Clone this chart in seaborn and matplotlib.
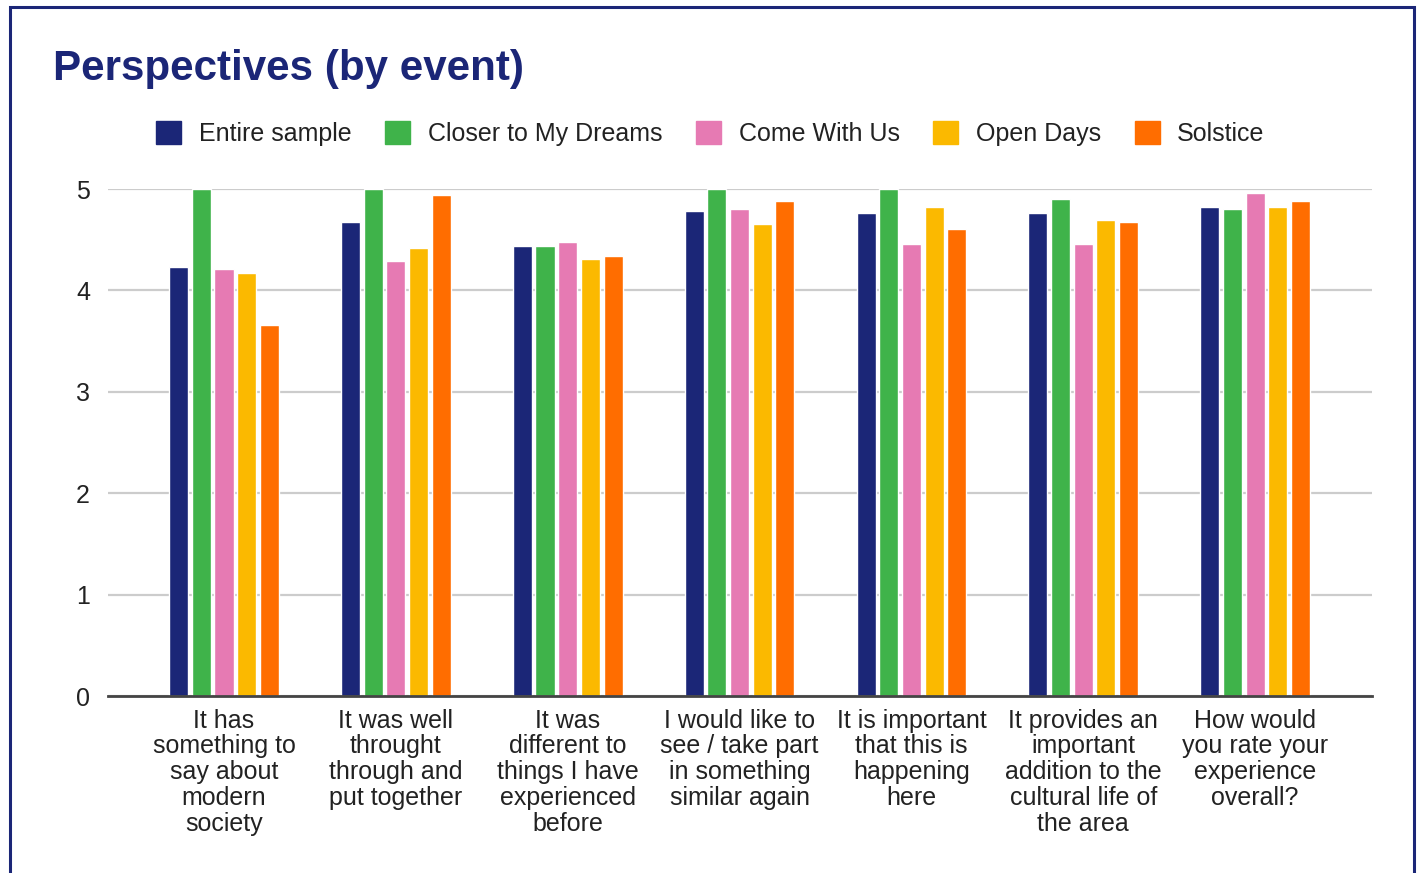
import numpy as np
import pandas as pd
import seaborn as sns
import matplotlib.pyplot as plt
from matplotlib.patches import Rectangle

questions = ['It has\nsomething to\nsay about\nmodern\nsociety',
             'It was well\nthrought\nthrough and\nput together',
             'It was\ndifferent to\nthings I have\nexperienced\nbefore',
             'I would like to\nsee / take part\nin something\nsimilar again',
             'It is important\nthat this is\nhappening\nhere',
             'It provides an\nimportant\naddition to the\ncultural life of\nthe area',
             'How would\nyou rate your\nexperience\noverall?']
events = ['Entire sample', 'Closer to My Dreams', 'Come With Us', 'Open Days', 'Solstice']

entire_sample = [4.23, 4.67, 4.44, 4.78, 4.76, 4.76, 4.82]
closer_to_my_dreams = [5.0, 5.0, 4.44, 5.0, 5.0, 4.90, 4.80]
come_with_us = [4.21, 4.29, 4.48, 4.80, 4.46, 4.46, 4.96]
open_days = [4.17, 4.42, 4.31, 4.65, 4.82, 4.69, 4.82]
solstice = [3.66, 4.94, 4.34, 4.88, 4.61, 4.67, 4.88]

colors = ['#1b2677', '#3fb34a', '#e67ab3', '#fbb900', '#ff6d00']

series = [entire_sample, closer_to_my_dreams, come_with_us, open_days, solstice]
rows = []
for ev, vals in zip(events, series):
    for q, v in zip(questions, vals):
        rows.append({'question': q, 'event': ev, 'score': v})
df = pd.DataFrame(rows)

sns.set_style('white')
plt.rcParams['font.family'] = ['Liberation Sans', 'DejaVu Sans']

fig = plt.figure(figsize=(14.21, 8.73), dpi=100)
ax = fig.add_axes([0.076, 0.2027, 0.8895, 0.5808])

sns.barplot(data=df, x='question', y='score', hue='event', order=questions,
            hue_order=events, palette=colors, width=0.66, gap=0.16,
            ax=ax, legend=False, saturation=1)

ax.set_ylim(0, 5)
ax.set_xlim(-0.675, 6.68)
ax.set_yticks([0, 1, 2, 3, 4, 5])
ax.yaxis.grid(True, color='#cccccc', linewidth=1.6)
ax.set_axisbelow(True)
for s in ['top', 'right', 'left']:
    ax.spines[s].set_visible(False)
ax.spines['bottom'].set_color('#444444')
ax.spines['bottom'].set_linewidth(2)
ax.tick_params(axis='both', length=0, labelsize=18, colors='#222222')
ax.tick_params(axis='y', pad=13)
ax.tick_params(axis='x', pad=9)
for lbl in ax.get_xticklabels():
    lbl.set_linespacing(1.1)
ax.set_xlabel('')
ax.set_ylabel('')

fig.text(0.037, 0.921, 'Perspectives (by event)', fontsize=30.3, fontweight='bold',
         color='#1b2677', ha='left', va='center')

handles = [Rectangle((0, 0), 1, 1, color=c) for c in colors]
fig.legend(handles, events, loc='center', bbox_to_anchor=(0.5, 0.847), ncol=5,
           frameon=False, fontsize=18, handlelength=1.0, handleheight=1.0,
           handletextpad=0.7, columnspacing=1.35, labelcolor='#222222')

fig.patches.append(Rectangle((10 / 1421, -0.05), 1404 / 1421, 1.05 - 7 / 873,
                             transform=fig.transFigure, fill=False,
                             edgecolor='#1b2677', linewidth=2.2))

plt.savefig('out.png', dpi=100)
